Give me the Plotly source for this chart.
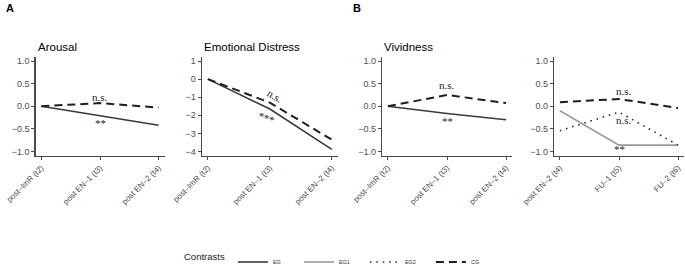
import plotly.graph_objects as go

# ---------------- data ----------------
labels_a = ["post–ImR (t2)", "post EN–1 (t3)", "post EN–2 (t4)"]
labels_b = ["post EN–2 (t4)", "FU–1 (t5)", "FU–2 (t6)"]

arousal_eg = [0.0, -0.21, -0.42]
arousal_cg = [0.0, 0.07, -0.03]

distress_eg = [0.0, -1.65, -3.88]
distress_cg = [0.0, -1.30, -3.35]

vivid_eg = [0.0, -0.16, -0.30]
vivid_cg = [0.0, 0.25, 0.07]

fu_cg = [0.09, 0.16, -0.04]
fu_eg1 = [-0.10, -0.86, -0.86]
fu_eg2 = [-0.54, -0.13, -0.86]

# ---------------- styles ----------------
FONT = "Liberation Sans, Arial, sans-serif"
SERIF = "Liberation Serif, Times New Roman, serif"
st = {
    "EG": dict(color="#3a3a3a", width=1.6),
    "EG1": dict(color="#9a9a9a", width=1.6),
    "EG2": dict(color="#333333", width=1.6, dash="1.6px,4.8px"),
    "CG": dict(color="#1e1e1e", width=2.0, dash="8px,5px"),
}

fig = go.Figure()
shown = set()


def add(name, xcats, yvals, k):
    fig.add_trace(go.Scatter(
        x=list(range(len(xcats))), y=yvals, mode="lines", name=name,
        line=st[name], xaxis="x" + ("" if k == 1 else str(k)),
        yaxis="y" + ("" if k == 1 else str(k)),
        showlegend=name not in shown, legendrank={"EG": 1, "EG1": 2, "EG2": 3, "CG": 4}[name],
        hoverinfo="skip"))
    shown.add(name)


add("EG", labels_a, arousal_eg, 1)
add("CG", labels_a, arousal_cg, 1)
add("EG", labels_a, distress_eg, 2)
add("CG", labels_a, distress_cg, 2)
add("EG", labels_a, vivid_eg, 3)
add("CG", labels_a, vivid_cg, 3)
add("EG1", labels_b, fu_eg1, 4)
add("EG2", labels_b, fu_eg2, 4)
add("CG", labels_b, fu_cg, 4)

W, H = 685, 268
doms = [(35.5, 164.5), (201.7, 338), (382, 512), (554, 684)]
ydom = [(H - 156) / H, (H - 56.5) / H]
yranges = [[-1.1, 1.1], [-4.25, 1.25], [-1.1, 1.1], [-1.1, 1.1]]
ytv = [[-1, -0.5, 0, 0.5, 1], [-4, -3, -2, -1, 0, 1], [-1, -0.5, 0, 0.5, 1], [-1, -0.5, 0, 0.5, 1]]
yfmt = [".1f", "d", ".1f", ".1f"]
xlabs = [labels_a, labels_a, labels_a, labels_b]

axcol = "#4a4a4a"
layout = dict(
    width=W, height=H, margin=dict(l=0, r=0, t=0, b=0, autoexpand=False),
    paper_bgcolor="white", plot_bgcolor="white",
    font=dict(family=FONT, color="#222"),
)
for i in range(4):
    k = "" if i == 0 else str(i + 1)
    layout["xaxis" + k] = dict(
        domain=[doms[i][0] / W, doms[i][1] / W], anchor="y" + k,
        range=[-0.1, 2.1], tickvals=[0, 1, 2], ticktext=xlabs[i],
        tickangle=-45, tickfont=dict(size=8, color="#4d4d4d", family=FONT),
        showline=True, linecolor=axcol, linewidth=1.1, ticks="outside",
        ticklen=3, tickcolor=axcol, tickwidth=1, showgrid=False, zeroline=False,
        fixedrange=True, automargin=False)
    layout["yaxis" + k] = dict(
        domain=ydom, anchor="x" + k, range=yranges[i], tickvals=ytv[i],
        tickformat=yfmt[i], tickfont=dict(size=9, color="#4d4d4d", family=FONT),
        showline=True, linecolor=axcol, linewidth=1.1, ticks="outside",
        ticklen=3, tickcolor=axcol, tickwidth=1, showgrid=False, zeroline=False,
        fixedrange=True, automargin=False)
fig.update_layout(**layout)

# panel titles and tags
titles = ["Arousal", "Emotional Distress", "Vividness", ""]
for i, t in enumerate(titles):
    if t:
        fig.add_annotation(text=t, x=doms[i][0] / W, y=(H - 47) / H, xref="paper", yref="paper",
                           xanchor="left", yanchor="middle", showarrow=False,
                           font=dict(size=11.5, color="black", family=FONT))
fig.add_annotation(text="<b>A</b>", x=4 / W, y=(H - 8) / H, xref="paper", yref="paper",
                   xanchor="left", yanchor="middle", showarrow=False,
                   font=dict(size=11, color="black", family=FONT))
fig.add_annotation(text="<b>B</b>", x=351 / W, y=(H - 8) / H, xref="paper", yref="paper",
                   xanchor="left", yanchor="middle", showarrow=False,
                   font=dict(size=11, color="black", family=FONT))

# significance labels
sig = [
    (1, 1, 0.20, "n.s.", 0),
    (1, 1, -0.36, "**", 0),
    (2, 1.08, -0.95, "n.s.", 30),
    (2, 0.95, -2.15, "***", 20),
    (3, 1, 0.47, "n.s.", 0),
    (3, 1, -0.33, "**", 0),
    (4, 1.08, 0.33, "n.s.", 0),
    (4, 1.08, -0.30, "n.s.", 0),
    (4, 1.0, -0.95, "**", 0),
]
for k, xv, yv, txt, ang in sig:
    s = "" if k == 1 else str(k)
    fig.add_annotation(text=txt, x=xv, y=yv, xref="x" + s, yref="y" + s, showarrow=False,
                       textangle=ang, font=dict(size=11, color="#222", family=SERIF))

fig.update_layout(legend=dict(
    orientation="h", x=182 / W, y=6 / H, xanchor="left", yanchor="middle",
    title=dict(text="Contrasts", side="left", font=dict(size=9.5, color="#222", family=FONT)),
    font=dict(size=5.5, color="#333", family=FONT), bgcolor="rgba(0,0,0,0)",
    entrywidth=21, itemwidth=30, tracegroupgap=0,
))

fig.write_html("out.html", config={"displayModeBar": False, "staticPlot": True},
               post_script="document.body.style.margin='0';document.body.style.overflow='hidden';")
